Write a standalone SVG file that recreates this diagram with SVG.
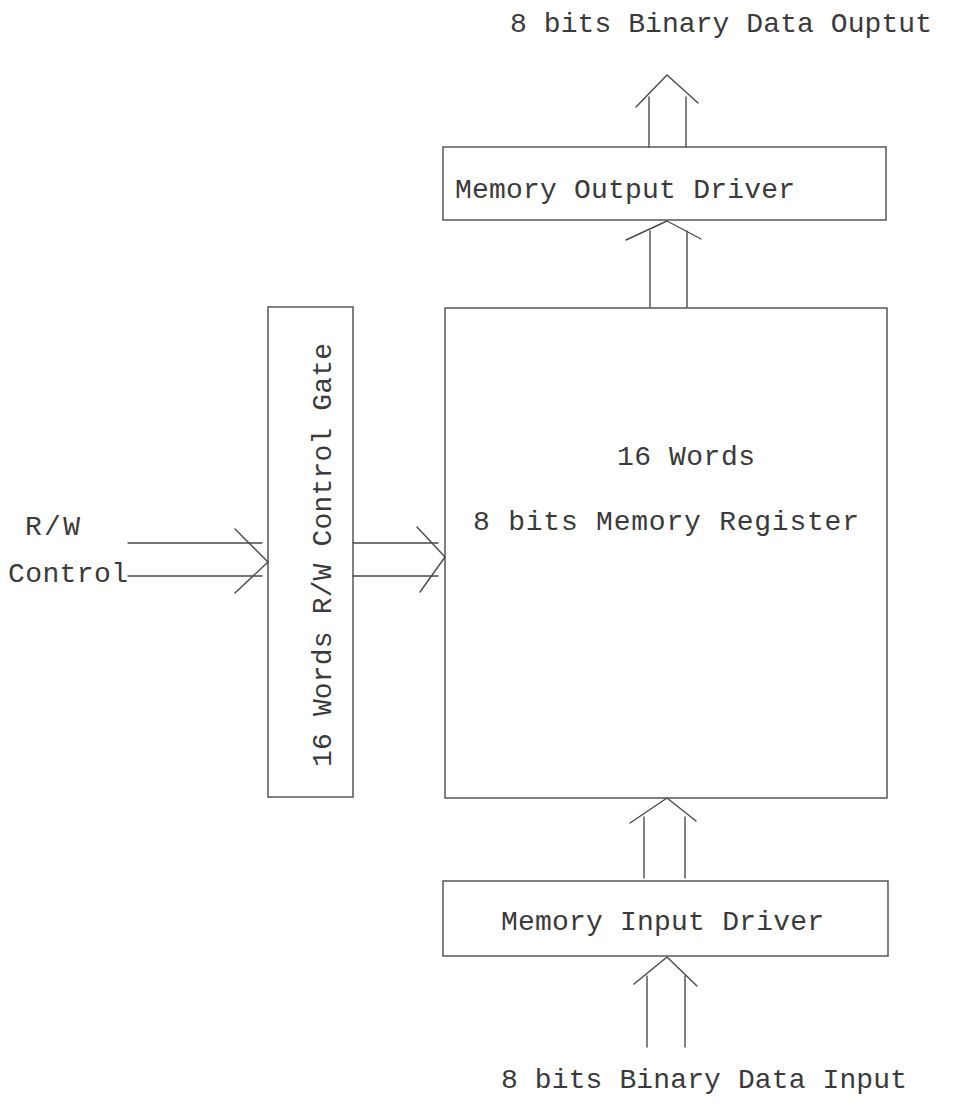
<svg xmlns="http://www.w3.org/2000/svg" width="967" height="1109" viewBox="0 0 967 1109">
<style>
.box{fill:none;stroke:#4a4a4a;stroke-width:1.4}
.ln{fill:none;stroke:#4a4a4a;stroke-width:1.4;stroke-linecap:round;stroke-linejoin:round}
.t{font-family:"Liberation Mono","DejaVu Sans Mono",monospace;font-size:28px;fill:#3a3a3a}
</style>
<rect width="967" height="1109" fill="#ffffff"/>
<g id="title-output"><text class="t" x="510" y="32" textLength="422">8 bits Binary Data Ouptut</text></g>
<g id="output-driver">
<rect class="box" x="443" y="147" width="443" height="73"/>
<text class="t" x="455" y="198" textLength="340">Memory Output Driver</text>
</g>
<g id="register">
<rect class="box" x="445" y="308" width="442" height="490"/>
<text class="t" x="617" y="465" textLength="138">16 Words</text>
<text class="t" x="473" y="530" textLength="386">8 bits Memory Register</text>
</g>
<g id="control-gate">
<rect class="box" x="268" y="307" width="85" height="490"/>
<text class="t" transform="translate(331,767) rotate(-90)" x="0" y="0" textLength="424">16 Words R/W Control Gate</text>
</g>
<g id="input-driver">
<rect class="box" x="443" y="881" width="445" height="75"/>
<text class="t" x="501" y="930" textLength="323">Memory Input Driver</text>
</g>
<g id="rw-label">
<text class="t" x="25" y="535" textLength="55">R/W</text>
<text class="t" x="8" y="582" textLength="120">Control</text>
</g>
<g id="title-input"><text class="t" x="501" y="1088" textLength="406">8 bits Binary Data Input</text></g>
<g id="connectors">
<!-- output driver to output -->
<line class="ln" x1="649" y1="147" x2="649" y2="97"/>
<line class="ln" x1="686" y1="147" x2="686" y2="97"/>
<polyline class="ln" points="636,107 667,75 698,103"/>
<!-- register to output driver -->
<line class="ln" x1="650" y1="307" x2="650" y2="231"/>
<line class="ln" x1="687" y1="307" x2="687" y2="231"/>
<polyline class="ln" points="626,240 667,221 701,239"/>
<!-- input driver to register -->
<line class="ln" x1="644" y1="878" x2="644" y2="817"/>
<line class="ln" x1="685" y1="878" x2="685" y2="817"/>
<polyline class="ln" points="630,823 667,798 696,821"/>
<!-- input to input driver -->
<line class="ln" x1="647" y1="1047" x2="647" y2="976"/>
<line class="ln" x1="685" y1="1047" x2="685" y2="976"/>
<polyline class="ln" points="634,984 667,957 697,986"/>
<!-- R/W control to gate -->
<line class="ln" x1="128" y1="543" x2="262" y2="543"/>
<line class="ln" x1="128" y1="576" x2="262" y2="576"/>
<polyline class="ln" points="235,529 268,562 235,593"/>
<!-- gate to register -->
<line class="ln" x1="353" y1="543" x2="438" y2="543"/>
<line class="ln" x1="353" y1="576" x2="438" y2="576"/>
<polyline class="ln" points="417,527 445,557 420,592"/>
</g>
</svg>
